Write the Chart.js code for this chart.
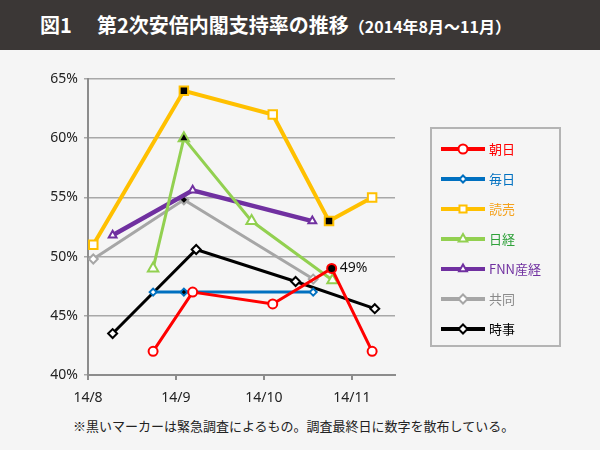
<!DOCTYPE html>
<html lang="ja">
<head>
<meta charset="utf-8">
<script src="https://cdn.jsdelivr.net/npm/chart.js@4.4.1/dist/chart.umd.min.js"></script>
<style>
  body { margin: 0; background: #f5f5f5; font-family: "Noto Sans CJK JP", "Noto Sans", sans-serif; }
  #page { position: relative; width: 600px; height: 450px; overflow: hidden; background: #f5f5f5; }
  #title { position: absolute; left: 0; top: 0; width: 600px; height: 50px; background: #3b3736; color: #fff; font-weight: bold; line-height: 50px; white-space: nowrap; }
  #title .num { position: absolute; left: 40px; font-size: 20px; }
  #title .main { position: absolute; left: 97px; font-size: 20px; }
  #title .sub { font-size: 16px; }
  #chartBox { position: absolute; left: 0; top: 50px; width: 600px; height: 360px; }
  #note { position: absolute; left: 73px; top: 416px; font-size: 13px; color: #222; white-space: nowrap; }
</style>
</head>
<body>
<div id="page">
  <div id="title"><span class="num">図1</span><span class="main">第2次安倍内閣支持率の推移<span class="sub">（2014年8月〜11月）</span></span></div>
  <div id="chartBox"><canvas id="poll-chart" width="600" height="360"></canvas></div>
  <div id="note">※黒いマーカーは緊急調査によるもの。調査最終日に数字を散布している。</div>
</div>
<script>
/* x values: months counted from 14/8 (1 = 14/9, 2 = 14/10 ...) */
const monthLabels = ["14/8", "14/9", "14/10", "14/11"];

const asahiX = [0.74, 1.19, 2.10, 2.77, 3.23];
const asahiY = [42, 47, 46, 49, 42];
const asahiUrgent = [false, false, false, true, false];

const mainichiX = [0.74, 1.09, 2.56];
const mainichiY = [47, 47, 47];
const mainichiUrgent = [false, true, false];

const yomiuriX = [0.06, 1.09, 2.10, 2.74, 3.23];
const yomiuriY = [51, 64, 62, 53, 55];
const yomiuriUrgent = [false, true, false, true, false];

const nikkeiX = [0.74, 1.09, 1.86, 2.78];
const nikkeiY = [49, 60, 53, 48];
const nikkeiUrgent = [false, true, false, false];

const fnnX = [0.28, 1.19, 2.55];
const fnnY = [51.8, 55.6, 53];
const fnnUrgent = [false, false, false];

const kyodoX = [0.06, 1.09, 2.56];
const kyodoY = [49.8, 54.8, 48.1];
const kyodoUrgent = [false, true, false];

const jijiX = [0.28, 1.23, 2.36, 3.26];
const jijiY = [43.5, 50.6, 47.9, 45.6];
const jijiUrgent = [false, false, false, false];

/* helpers */
function points(xs, ys) {
    return xs.map((x, i) => ({ x: x, y: ys[i] }));
}
function fills(flags) {
    return flags.map(f => f ? '#000000' : '#ffffff');
}

function series(label, xs, ys, flags, color, textColor, style, radius, width) {
    return {
        label: label,
        data: points(xs, ys),
        borderColor: color,
        borderWidth: width,
        pointStyle: style,
        pointRadius: radius,
        pointHoverRadius: radius,
        pointBorderWidth: 2,
        pointBorderColor: color,
        pointBackgroundColor: fills(flags),
        tension: 0,
        textColor: textColor
    };
}

const pollData = {
    datasets: [
        series("朝日", asahiX, asahiY, asahiUrgent, '#ff0000', '#ff0000', 'circle', 4.5, 3),
        series("毎日", mainichiX, mainichiY, mainichiUrgent, '#0070c0', '#0070c0', 'rectRot', 3.5, 3),
        series("読売", yomiuriX, yomiuriY, yomiuriUrgent, '#ffc000', '#f5a21c', 'rect', 6, 4),
        series("日経", nikkeiX, nikkeiY, nikkeiUrgent, '#92d050', '#2fa13a', 'triangle', 6, 3),
        series("FNN産経", fnnX, fnnY, fnnUrgent, '#7030a0', '#7030a0', 'triangle', 4.5, 4.5),
        series("共同", kyodoX, kyodoY, kyodoUrgent, '#a6a6a6', '#8a8a8a', 'rectRot', 4.5, 3),
        series("時事", jijiX, jijiY, jijiUrgent, '#000000', '#000000', 'rectRot', 4.5, 3)
    ]
};

/* boxed legend with line + marker samples, and the 49% note */
const boxLegend = {
    id: 'boxLegend',
    afterDraw(chart) {
        const ctx = chart.ctx;
        ctx.save();
        ctx.strokeStyle = '#b4b4b4';
        ctx.lineWidth = 2;
        ctx.strokeRect(431, 78, 129, 218);

        chart.data.datasets.forEach((ds, i) => {
            const y = 99 + i * 30;
            ctx.strokeStyle = ds.borderColor;
            ctx.lineWidth = 4;
            ctx.beginPath();
            ctx.moveTo(441, y);
            ctx.lineTo(485, y);
            ctx.stroke();

            ctx.lineWidth = 2;
            ctx.fillStyle = '#ffffff';
            Chart.helpers.drawPoint(ctx, {
                pointStyle: ds.pointStyle,
                radius: Math.min(ds.pointRadius, 5),
                rotation: 0,
                borderWidth: 2
            }, 463, y);

            ctx.fillStyle = ds.textColor;
            ctx.font = '13px "Noto Sans CJK JP"';
            ctx.textBaseline = 'middle';
            ctx.textAlign = 'left';
            ctx.fillText(ds.label, 489, y);
        });

        // value note on the last Asahi emergency survey
        const idx = asahiUrgent.lastIndexOf(true);
        const pt = chart.getDatasetMeta(0).data[idx];
        ctx.fillStyle = '#111';
        ctx.font = '14px "Noto Sans"';
        ctx.fillText(asahiY[idx] + '%', pt.x + 8, pt.y);
        ctx.restore();
    }
};

const pollOptions = {
    responsive: false,
    animation: false,
    layout: {
        padding: { top: 29, right: 205, left: 0, bottom: 0 }
    },
    scales: {
        x: {
            type: 'linear',
            min: 0,
            max: 3.49,
            afterFit: s => { s.height = 35; },
            ticks: {
                stepSize: 1,
                includeBounds: false,
                padding: 10,
                color: '#222',
                font: { family: 'Noto Sans', size: 14 },
                callback: v => monthLabels[v] !== undefined && Number.isInteger(v) ? monthLabels[v] : ''
            },
            grid: {
                drawOnChartArea: false,
                tickLength: 5,
                color: '#8c8c8c',
                lineWidth: 2
            },
            border: { color: '#8c8c8c', width: 2 }
        },
        y: {
            min: 40,
            max: 65,
            afterFit: s => { s.width = 88; },
            ticks: {
                stepSize: 5,
                padding: 6,
                color: '#222',
                font: { family: 'Noto Sans', size: 14 },
                callback: v => v + '%'
            },
            grid: {
                color: '#a8a8a8',
                lineWidth: 1.5,
                tickLength: 4
            },
            border: { color: '#8c8c8c', width: 2 }
        }
    },
    plugins: {
        legend: { display: false },
        tooltip: { enabled: false }
    }
};

let pollChart = new Chart(document.getElementById("poll-chart"), {
    type: 'line',
    data: pollData,
    options: pollOptions,
    plugins: [boxLegend]
});
</script>
</body>
</html>
